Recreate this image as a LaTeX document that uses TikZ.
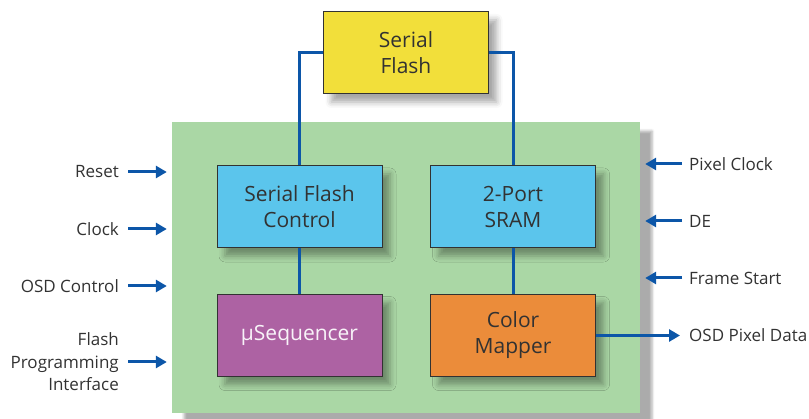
\documentclass[tikz,border=0pt]{standalone}
\usepackage{fontspec}
\setmainfont{Open Sans}
\usetikzlibrary{arrows.meta,positioning,shadows.blur}
\definecolor{panelgreen}{RGB}{170,215,165}
\definecolor{flashyellow}{RGB}{242,223,58}
\definecolor{ctlblue}{RGB}{91,197,236}
\definecolor{seqpurple}{RGB}{173,98,163}
\definecolor{maporange}{RGB}{235,140,58}
\definecolor{busblue}{RGB}{12,86,168}
\definecolor{inkgray}{RGB}{50,50,50}

\begin{document}
\begin{tikzpicture}[x=1pt,y=-1pt,
  blk/.style={rectangle,draw=inkgray,line width=1pt,minimum width=165pt,minimum height=82pt,align=center,text=inkgray,font=\fontsize{21}{26}\selectfont,
    blur shadow={shadow xshift=8pt,shadow yshift=-8pt,shadow blur radius=6pt,shadow opacity=35}},
  bus/.style={line width=3pt,busblue},
  sig/.style={line width=3pt,busblue,-{Triangle[length=11pt,width=12pt]}},
  lbl/.style={text=inkgray,inner sep=0pt,font=\fontsize{17}{22.5}\selectfont}
]
\useasboundingbox (0,0) rectangle (809,419);

% chip outline
\node[rectangle,fill=panelgreen,minimum width=468pt,minimum height=291pt,
  blur shadow={shadow xshift=12pt,shadow yshift=-9pt,shadow blur radius=2.5pt,shadow opacity=33}] (panel) at (406,267.5) {};

% blocks
\node[blk,fill=flashyellow] (flash) at (406,53) {Serial\\Flash};
\node[blk,fill=ctlblue] (sfctl) at (299.5,207) {Serial Flash\\Control};
\node[blk,fill=ctlblue] (sram) at (513,207) {2-Port\\SRAM};
\node[blk,fill=seqpurple,text=white!92!seqpurple] (useq) at (299.5,335.5) {µSequencer};
\node[blk,fill=maporange] (cmap) at (513,335.5) {Color\\Mapper};

% internal buses
\draw[bus] (flash.west) -| (sfctl.north);
\draw[bus] (flash.east) -| (sram.north);
\draw[bus] (sfctl.south) -- (useq.north);
\draw[bus] (sram.south) -- (cmap.north);

% inputs on the left
\foreach \n/\y/\t in {rst/172/Reset,clk/229/Clock,osd/286/OSD Control,fpi/362/Flash\\Programming\\Interface}{
  \coordinate (\n) at (128,\y);
  \node[lbl,anchor=east,align=right] (\n lbl) at (119,\y) {\t};
  \draw[sig] (\n) -- ([xshift=-5pt]\n -| panel.west);
}

% video timing inputs on the right
\foreach \n/\y/\t in {pclk/164/Pixel Clock,de/221/DE,fs/278/Frame Start}{
  \coordinate (\n) at (682,\y);
  \node[lbl,anchor=west] (\n lbl) at (689,\y) {\t};
  \draw[sig] (\n) -- ([xshift=5pt]\n -| panel.east);
}

% output
\coordinate (pxout) at (680,335.5);
\draw[sig] (cmap.east) -- (pxout);
\node[lbl,anchor=west] (pxlbl) at (689,335.5) {OSD Pixel Data};
\end{tikzpicture}
\end{document}
